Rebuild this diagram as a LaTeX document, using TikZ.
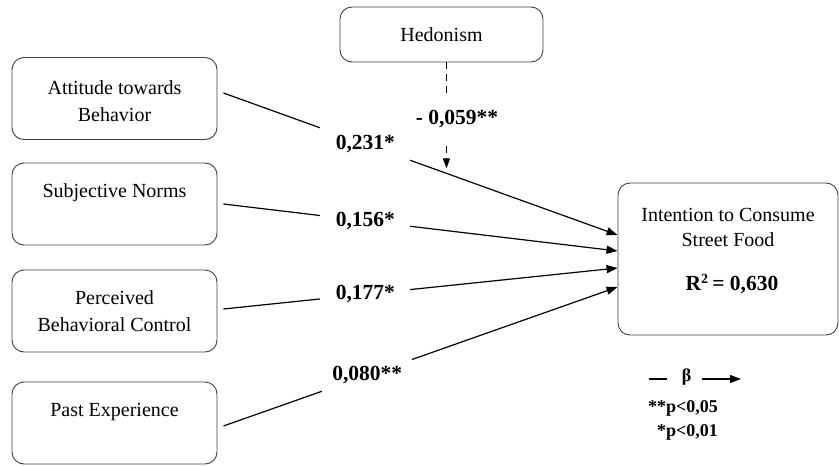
\documentclass[tikz,border=0pt]{standalone}
\usepackage{fontspec}
\setmainfont{Liberation Serif}
\usetikzlibrary{arrows.meta}
\begin{document}
\begin{tikzpicture}[x=1pt,y=-1pt,
  box/.style={draw=black!75, line width=0.9pt, rounded corners=12pt, align=center,
    font=\fontsize{20}{27}\selectfont, inner sep=0pt},
  sidebox/.style={box, minimum width=205pt, minimum height=82pt},
  coef/.style={fill=white, font=\bfseries\fontsize{21.5}{25}\selectfont,
    minimum width=90pt, minimum height=42pt, inner sep=0pt},
  effect/.style={line width=1.2pt, -{Triangle[length=11pt,width=8pt]}},
  moderation/.style={line width=1.2pt, dash pattern=on 7pt off 5pt,
    -{Triangle[length=10pt,width=7pt]}},
  legendtext/.style={font=\bfseries\fontsize{18}{22}\selectfont, inner sep=0pt}
]
\useasboundingbox (0,0) rectangle (839,466);

% predictor constructs
\node[sidebox] (att) at (114.5,98.5) {\rule{0pt}{20pt}Attitude towards\\Behavior};
\node[sidebox] (sn)  at (114.5,204)  {Subjective Norms\\[-9pt]\strut};
\node[sidebox] (pbc) at (114.5,311)  {Perceived\\Behavioral Control};
\node[sidebox] (pe)  at (114.5,423)  {Past Experience\\[-9pt]\strut};

% moderator
\node[box, minimum width=203pt, minimum height=55pt] (hed) at (441.5,34.5) {Hedonism};

% outcome construct
\node[box, minimum width=220pt, minimum height=152pt] (ict) at (728,259) {};
\node[align=center, font=\fontsize{20}{25}\selectfont, inner sep=0pt] (icttext) at (728,227.5)
  {Intention to Consume\\Street Food};
\node[font=\bfseries\fontsize{21.5}{25}\selectfont, inner sep=0pt] (r2) at (732,284)
  {R\textsuperscript{\fontsize{14}{14}\selectfont 2}\,= 0,630};

% structural paths
\draw[effect] ([shift={(6,-5.5)}]att.east) -- ([yshift=24]ict.west)
  coordinate[pos=0.566] (hm)
  node[coef, pos=0.36] (c1) {0,231*};
\draw[effect] ([xshift=6]sn.east) -- ([yshift=8]ict.west)
  node[coef, pos=0.36] (c2) {0,156*};
\draw[effect] ([shift={(6,-2)}]pbc.east) -- ([yshift=-9]ict.west)
  node[coef, pos=0.36] (c3) {0,177*};
\draw[effect] ([shift={(6,3)}]pe.east) -- ([yshift=-28]ict.west)
  node[coef, pos=0.365] (c4) {0,080**};

% moderating effect of hedonism
\draw[moderation] (hed.south -| hm) -- ([yshift=5]hm);
\node[coef, minimum width=100pt, minimum height=45pt] (c5) at (457,119.5)
  {\raisebox{5pt}{- 0,059**}};

% legend
\coordinate (ld1) at (649,379);
\coordinate (ld2) at (667,379);
\draw[line width=1.2pt] (ld1) -- (ld2);
\node[legendtext] (beta) at (686.5,377) {β};
\coordinate (la1) at (702,379);
\coordinate (la2) at (741,379);
\draw[effect] (la1) -- (la2);
\node[legendtext, anchor=west] (p1) at (648,408) {**p<0,05};
\node[legendtext, anchor=west] (p2) at (657,432) {*p<0,01};
\end{tikzpicture}
\end{document}
